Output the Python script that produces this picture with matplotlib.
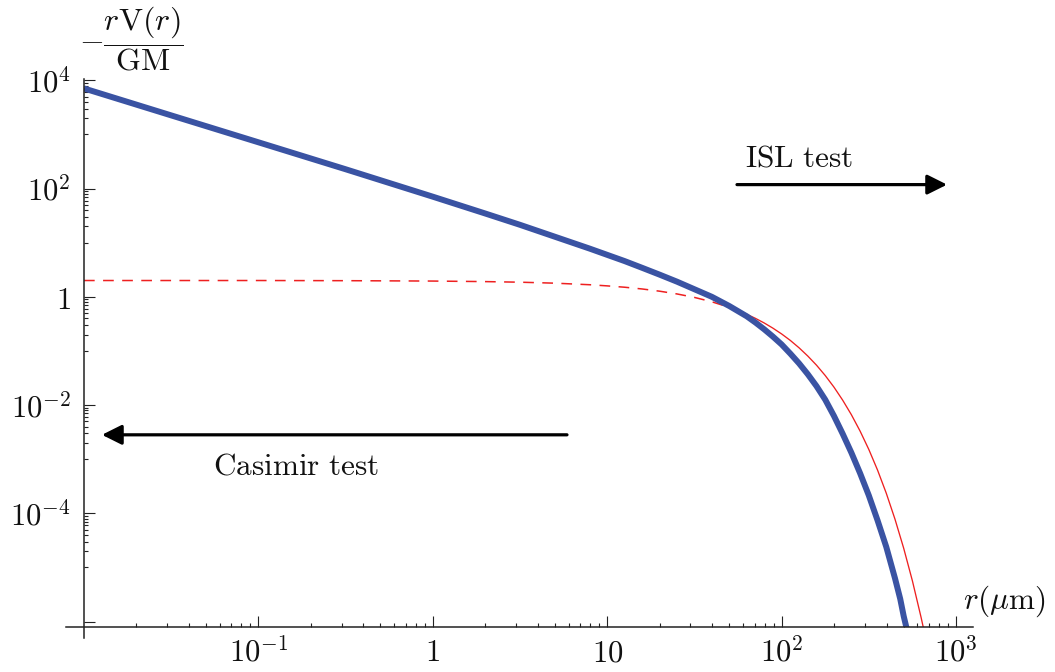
import numpy as np
import matplotlib.pyplot as plt

plt.rcParams['mathtext.fontset'] = 'cm'
plt.rcParams['font.family'] = 'serif'
plt.rcParams['font.serif'] = ['DejaVu Serif']

# -----------------------------
# Datos (log10 de r en micras y de -rV/GM)
# -----------------------------
log_r_azul = [-2.0, -1.5, -1.0, -0.5, 0.0, 0.3, 0.5, 0.7, 0.9, 1.0, 1.1, 1.2, 1.3,
              1.4, 1.5, 1.6, 1.7, 1.8, 1.85, 1.9, 1.95, 2.0, 2.05, 2.1, 2.15, 2.2,
              2.25, 2.3, 2.35, 2.4, 2.45, 2.5, 2.55, 2.6, 2.65, 2.68, 2.7, 2.72]
log_v_azul = [3.85, 3.352, 2.855, 2.357, 1.85, 1.54, 1.33, 1.11, 0.89, 0.775, 0.66,
              0.536, 0.41, 0.28, 0.14, 0.0, -0.17, -0.36, -0.475, -0.60, -0.735,
              -0.88, -1.05, -1.23, -1.43, -1.65, -1.90, -2.20, -2.53, -2.88, -3.26,
              -3.67, -4.13, -4.62, -5.20, -5.58, -5.90, -6.17]

log_r_rojo = [-2.0, -1.0, -0.5, 0.0, 0.3, 0.5, 0.7, 0.9, 1.0, 1.1, 1.2, 1.3, 1.4,
              1.5, 1.6, 1.7, 1.8, 1.85, 1.9, 1.95, 2.0, 2.05, 2.1, 2.15, 2.2, 2.25,
              2.3, 2.35, 2.4, 2.45, 2.5, 2.55, 2.6, 2.65, 2.7, 2.75, 2.8, 2.82]
log_v_rojo = [0.301, 0.301, 0.298, 0.291, 0.281, 0.270, 0.252, 0.223, 0.202, 0.177,
              0.145, 0.104, 0.053, -0.011, -0.092, -0.194, -0.322, -0.398, -0.483,
              -0.579, -0.686, -0.806, -0.942, -1.094, -1.263, -1.454, -1.668,
              -1.909, -2.178, -2.481, -2.820, -3.201, -3.628, -4.108, -4.646,
              -5.249, -5.927, -6.22]
log_r_corte = 1.7   # donde la curva roja pasa de discontinua a continua

x_mayores = [0.1, 1, 10, 100, 1000]
x_etiquetas = [r'$10^{-1}$', r'$1$', r'$10$', r'$10^{2}$', r'$10^{3}$']
y_mayores = [1e-6, 1e-4, 1e-2, 1, 1e2, 1e4]
y_etiquetas = ['', r'$10^{-4}$', r'$10^{-2}$', r'$1$', r'$10^{2}$', r'$10^{4}$']

# -----------------------------
# Figura
# -----------------------------
fig = plt.figure(figsize=(10.55, 6.72), dpi=100)
ax = fig.add_axes([0.0796, 0.0670, 0.8427, 0.8147])
ax.set_xscale('log')
ax.set_yscale('log')

r_azul = 10 ** np.array(log_r_azul)
v_azul = 10 ** np.array(log_v_azul)
lr_rojo = np.array(log_r_rojo)
r_rojo = 10 ** lr_rojo
v_rojo = 10 ** np.array(log_v_rojo)

disc = lr_rojo <= log_r_corte
cont = lr_rojo >= log_r_corte
ax.plot(r_rojo[disc], v_rojo[disc], color='#ee2020', lw=1.1, dashes=(7, 5.5))
ax.plot(r_rojo[cont], v_rojo[cont], color='#ee2020', lw=0.95)
ax.plot(r_azul, v_azul, color='#3a53a3', lw=4.3, solid_capstyle='butt')

ax.set_xlim(0.01, 10 ** 3.0975)
ax.set_ylim(10 ** -6.1, 10 ** 4.015)

# ejes estilo Mathematica
for s in ax.spines.values():
    s.set_visible(False)
eje = '#222222'
ax.plot([-0.0203, 1], [0, 0], transform=ax.transAxes, clip_on=False, color=eje, lw=1.1)
ax.plot([0, 0], [-0.0201, 1], transform=ax.transAxes, clip_on=False, color=eje, lw=1.1)

x_menores = [k * 10.0 ** n for n in range(-2, 3) for k in range(2, 10)]
y_menores = [k * 10.0 ** (m - 1) for m in (-4, -2, 0, 2, 4) for k in range(1, 10)]
ax.set_xticks(x_mayores, x_etiquetas)
ax.set_xticks(x_menores, minor=True)
ax.set_yticks(y_mayores, y_etiquetas)
ax.set_yticks(y_menores, minor=True)
ax.xaxis.set_minor_formatter(plt.NullFormatter())
ax.yaxis.set_minor_formatter(plt.NullFormatter())

ax.tick_params(which='both', direction='in', color=eje, width=0.8)
ax.tick_params(which='major', length=7.6)
ax.tick_params(which='minor', length=2.9)
ax.tick_params(axis='y', which='major', pad=9.5, labelsize=22, labelcolor='#111111')
ax.tick_params(axis='x', which='major', pad=24.5, labelsize=22, labelcolor='#111111')
for t in ax.xaxis.get_major_ticks():
    t.label1.set_verticalalignment('baseline')

# textos y flechas
tam = 22.5
ax.text(0.7435, 0.841, r'$\mathrm{ISL\ test}$', transform=ax.transAxes,
        fontsize=tam, ha='left', va='baseline', color='#111111')
ax.annotate('', xy=(0.9708, 0.808), xytext=(0.7345, 0.808), xycoords='axes fraction',
            arrowprops=dict(arrowstyle='-|>,head_length=0.6,head_width=0.3',
                            color='black', lw=2.3, shrinkA=0, shrinkB=0,
                            mutation_scale=20))
ax.text(0.1451, 0.278, r'$\mathrm{Casimir\ test}$', transform=ax.transAxes,
        fontsize=tam, ha='left', va='baseline', color='#111111')
ax.annotate('', xy=(0.0202, 0.351), xytext=(0.5433, 0.351), xycoords='axes fraction',
            arrowprops=dict(arrowstyle='-|>,head_length=0.6,head_width=0.3',
                            color='black', lw=2.3, shrinkA=0, shrinkB=0,
                            mutation_scale=20))

ax.text(0.9888, 0.0475, r'$r(\mu\mathrm{m})$', transform=ax.transAxes,
        fontsize=tam, ha='left', va='center', color='#111111')
fig.text(131 / 1055, 1 - 39 / 672, r'$-\dfrac{r\mathrm{V}(r)}{\mathrm{GM}}$',
         fontsize=23, ha='center', va='center', color='#111111')

fig.savefig('out.png', dpi=100)
